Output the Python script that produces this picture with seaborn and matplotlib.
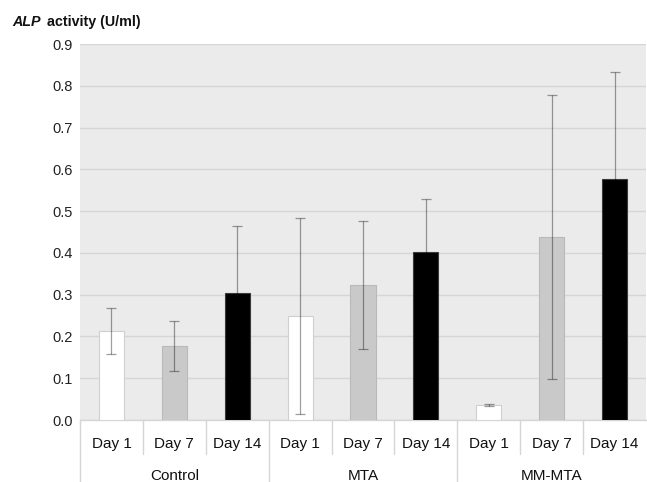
import matplotlib
matplotlib.use("Agg")
import matplotlib.pyplot as plt
import matplotlib.transforms as mtransforms
import pandas as pd
import seaborn as sns

groups = ["Control", "MTA", "MM-MTA"]
days = ["Day 1", "Day 7", "Day 14"]
means = [0.213, 0.178, 0.305, 0.249, 0.323, 0.401, 0.036, 0.438, 0.577]
errors = [0.056, 0.060, 0.159, 0.234, 0.154, 0.127, 0.003, 0.339, 0.256]
yticks = [0.0, 0.1, 0.2, 0.3, 0.4, 0.5, 0.6, 0.7, 0.8, 0.9]

fill_colors = {"Day 1": "#ffffff", "Day 7": "#c9c9c9", "Day 14": "#000000"}
edge_colors = {"Day 1": "#cfcfcf", "Day 7": "#b9b9b9", "Day 14": "#3a3a3a"}

rows = []
for gi, g in enumerate(groups):
    for di, d in enumerate(days):
        k = gi * len(days) + di
        rows.append({"key": f"{g}|{d}", "group": g, "day": d,
                     "value": means[k], "err": errors[k]})
df = pd.DataFrame(rows)
order = list(df["key"])

sns.set_theme(style="white")
plt.rcParams["font.family"] = ["Liberation Sans", "DejaVu Sans"]

fig = plt.figure(figsize=(6.47, 4.82), dpi=100)
ax = fig.add_axes([80 / 647, 62 / 482, 566 / 647, 376 / 482])
ax.set_facecolor("#ebebeb")

sns.barplot(data=df, x="key", y="value", hue="day", order=order,
            hue_order=days, palette=fill_colors, dodge=False, width=0.4,
            legend=False, ax=ax, zorder=3)

for container, d in zip(ax.containers, days):
    for bar in container:
        bar.set_edgecolor(edge_colors[d])
        bar.set_linewidth(0.8)

# error bars: translucent black, so they vanish on the black bars
xpos = [order.index(k) for k in df["key"]]
ax.errorbar(xpos, df["value"], yerr=df["err"], fmt="none",
            ecolor=(0, 0, 0, 0.38), elinewidth=0.9, capsize=3.3,
            capthick=0.9, zorder=4)

ax.set_xlim(-0.5, len(order) - 0.5)
ax.set_ylim(0, 0.9)
ax.set_yticks(yticks)
ax.set_yticklabels([f"{t:.1f}" for t in yticks], fontsize=10.5, color="#222222")
ax.yaxis.grid(True, color="#d6d6d6", linewidth=1, zorder=0)
ax.set_axisbelow(True)
ax.tick_params(axis="y", length=0, pad=5)
ax.set_xticks([])
ax.set_xlabel("")
ax.set_ylabel("")
for side in ["top", "right", "left"]:
    ax.spines[side].set_visible(False)
ax.spines["bottom"].set_color("#d6d6d6")
ax.spines["bottom"].set_linewidth(1)

# category table below the axis
trans = mtransforms.blended_transform_factory(ax.transData, ax.transAxes)
for i in range(len(order)):
    x = i - 0.5
    bottom = -0.17 if i % len(days) == 0 else -0.09
    ax.plot([x, x], [0, bottom], transform=trans, color="#d6d6d6",
            linewidth=1, clip_on=False)
for i, k in enumerate(order):
    ax.text(i, -0.063, df["day"][i], transform=trans, ha="center",
            va="center", fontsize=11, color="#111111")
for gi, g in enumerate(groups):
    ax.text(gi * len(days) + 1, -0.15, g, transform=trans, ha="center",
            va="center", fontsize=11, color="#111111")

# y-axis title
t1 = fig.text(12 / 647, 1 - 22 / 482, "ALP", fontsize=10.3, fontweight="bold",
              fontstyle="italic", va="center", ha="left", color="#111111")
ax.annotate("activity (U/ml)", xy=(1, 0.5), xycoords=t1, xytext=(5, 0),
            textcoords="offset points", va="center", ha="left",
            fontsize=10.3, fontweight="bold", color="#111111",
            annotation_clip=False)

fig.savefig("out.png", dpi=100)
